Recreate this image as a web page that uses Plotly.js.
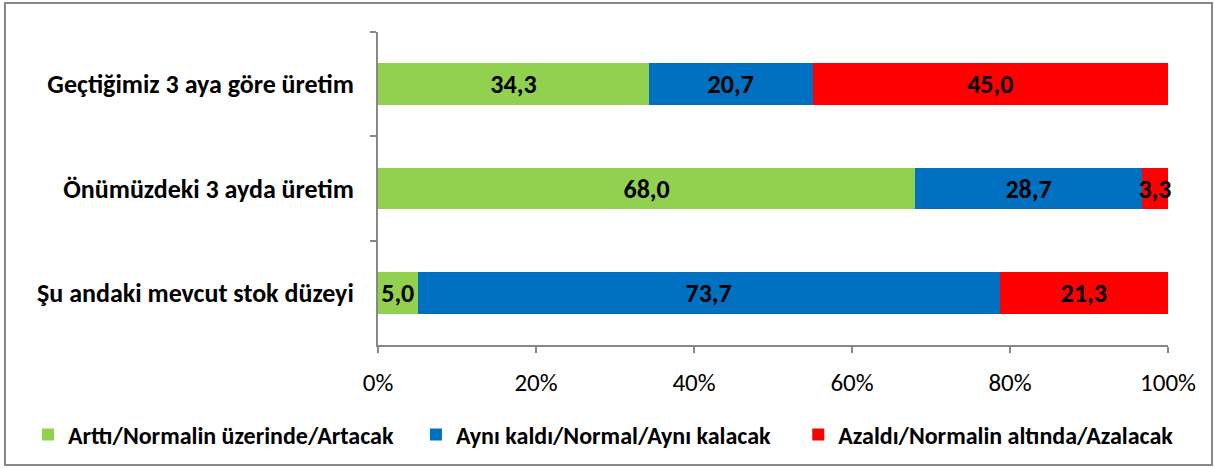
<!DOCTYPE html>
<html>
<head>
<meta charset="utf-8">
<script src="https://cdn.plot.ly/plotly-3.0.1.min.js"></script>
<style>
  html, body { margin: 0; padding: 0; background: #fff; }
  #wrap { position: relative; width: 1215px; height: 468px; }
  #chart { position: absolute; left: 0; top: 0; width: 1215px; height: 468px; }
  #frame { position: absolute; left: 4px; top: 2px; width: 1205px; height: 460px; border: 2px solid #878787; pointer-events: none; }
</style>
</head>
<body>
<div id="wrap">
  <div id="chart"></div>
  <div id="frame"></div>
</div>
<script>
const categories = ['Geçtiğimiz 3 aya göre üretim', 'Önümüzdeki 3 ayda üretim', 'Şu andaki mevcut stok düzeyi'];
const seriesNames = ['Arttı/Normalin üzerinde/Artacak', 'Aynı kaldı/Normal/Aynı kalacak', 'Azaldı/Normalin altında/Azalacak'];
const increased = [34.3, 68.0, 5.0];
const same = [20.7, 28.7, 73.7];
const decreased = [45.0, 3.3, 21.3];
const colors = ['#92D050', '#0070C0', '#FF0000'];

const FONT = 'Carlito, Lato, "Open Sans", sans-serif';
const values = [increased, same, decreased];
const legendIds = ['legend', 'legend2', 'legend3'];
const legendX = [-0.443, 0.048, 0.532];

const traces = values.map((v, i) => ({
  type: 'bar',
  orientation: 'h',
  name: seriesNames[i],
  legend: legendIds[i],
  y: categories,
  x: v,
  width: 0.4,
  marker: { color: colors[i], line: { width: 0 } },
  texttemplate: '%{x:.1f}',
  textposition: 'inside',
  insidetextanchor: 'middle',
  textangle: 0,
  constraintext: 'none',
  cliponaxis: false,
  textfont: { family: FONT, size: 26, color: '#000', weight: 'bold' },
  hoverinfo: 'skip'
}));

function legendAt(x) {
  return {
    orientation: 'h',
    x: x,
    xanchor: 'left',
    y: -0.283,
    yanchor: 'middle',
    itemwidth: 30,
    font: { family: FONT, size: 24, color: '#000', weight: 'bold' },
    bgcolor: 'rgba(0,0,0,0)'
  };
}

const layout = {
  width: 1215,
  height: 468,
  barmode: 'stack',
  separators: ',.',
  paper_bgcolor: '#fff',
  plot_bgcolor: '#fff',
  margin: { l: 378, r: 47, t: 32, b: 122 },
  font: { family: FONT, color: '#000' },
  uniformtext: { mode: 'show', minsize: 26 },
  xaxis: {
    range: [0, 100],
    dtick: 20,
    ticksuffix: '%',
    showgrid: false,
    zeroline: false,
    showline: true,
    linecolor: '#878787',
    linewidth: 2,
    ticks: 'outside',
    ticklen: 6,
    tickwidth: 2,
    tickcolor: '#878787',
    ticklabelstandoff: 8,
    tickfont: { family: FONT, size: 25, color: '#000' },
    fixedrange: true
  },
  yaxis: {
    type: 'category',
    autorange: 'reversed',
    showgrid: false,
    zeroline: false,
    showline: true,
    linecolor: '#878787',
    linewidth: 2,
    ticks: 'outside',
    tickson: 'boundaries',
    ticklen: 6,
    tickwidth: 2,
    tickcolor: '#878787',
    ticklabelstandoff: 17,
    tickfont: { family: FONT, size: 26, color: '#000', weight: 'bold' },
    fixedrange: true
  },
  showlegend: true,
  legend: legendAt(legendX[0]),
  legend2: legendAt(legendX[1]),
  legend3: legendAt(legendX[2])
};

Plotly.newPlot('chart', traces, layout, { staticPlot: true, displayModeBar: false });
</script>
</body>
</html>
